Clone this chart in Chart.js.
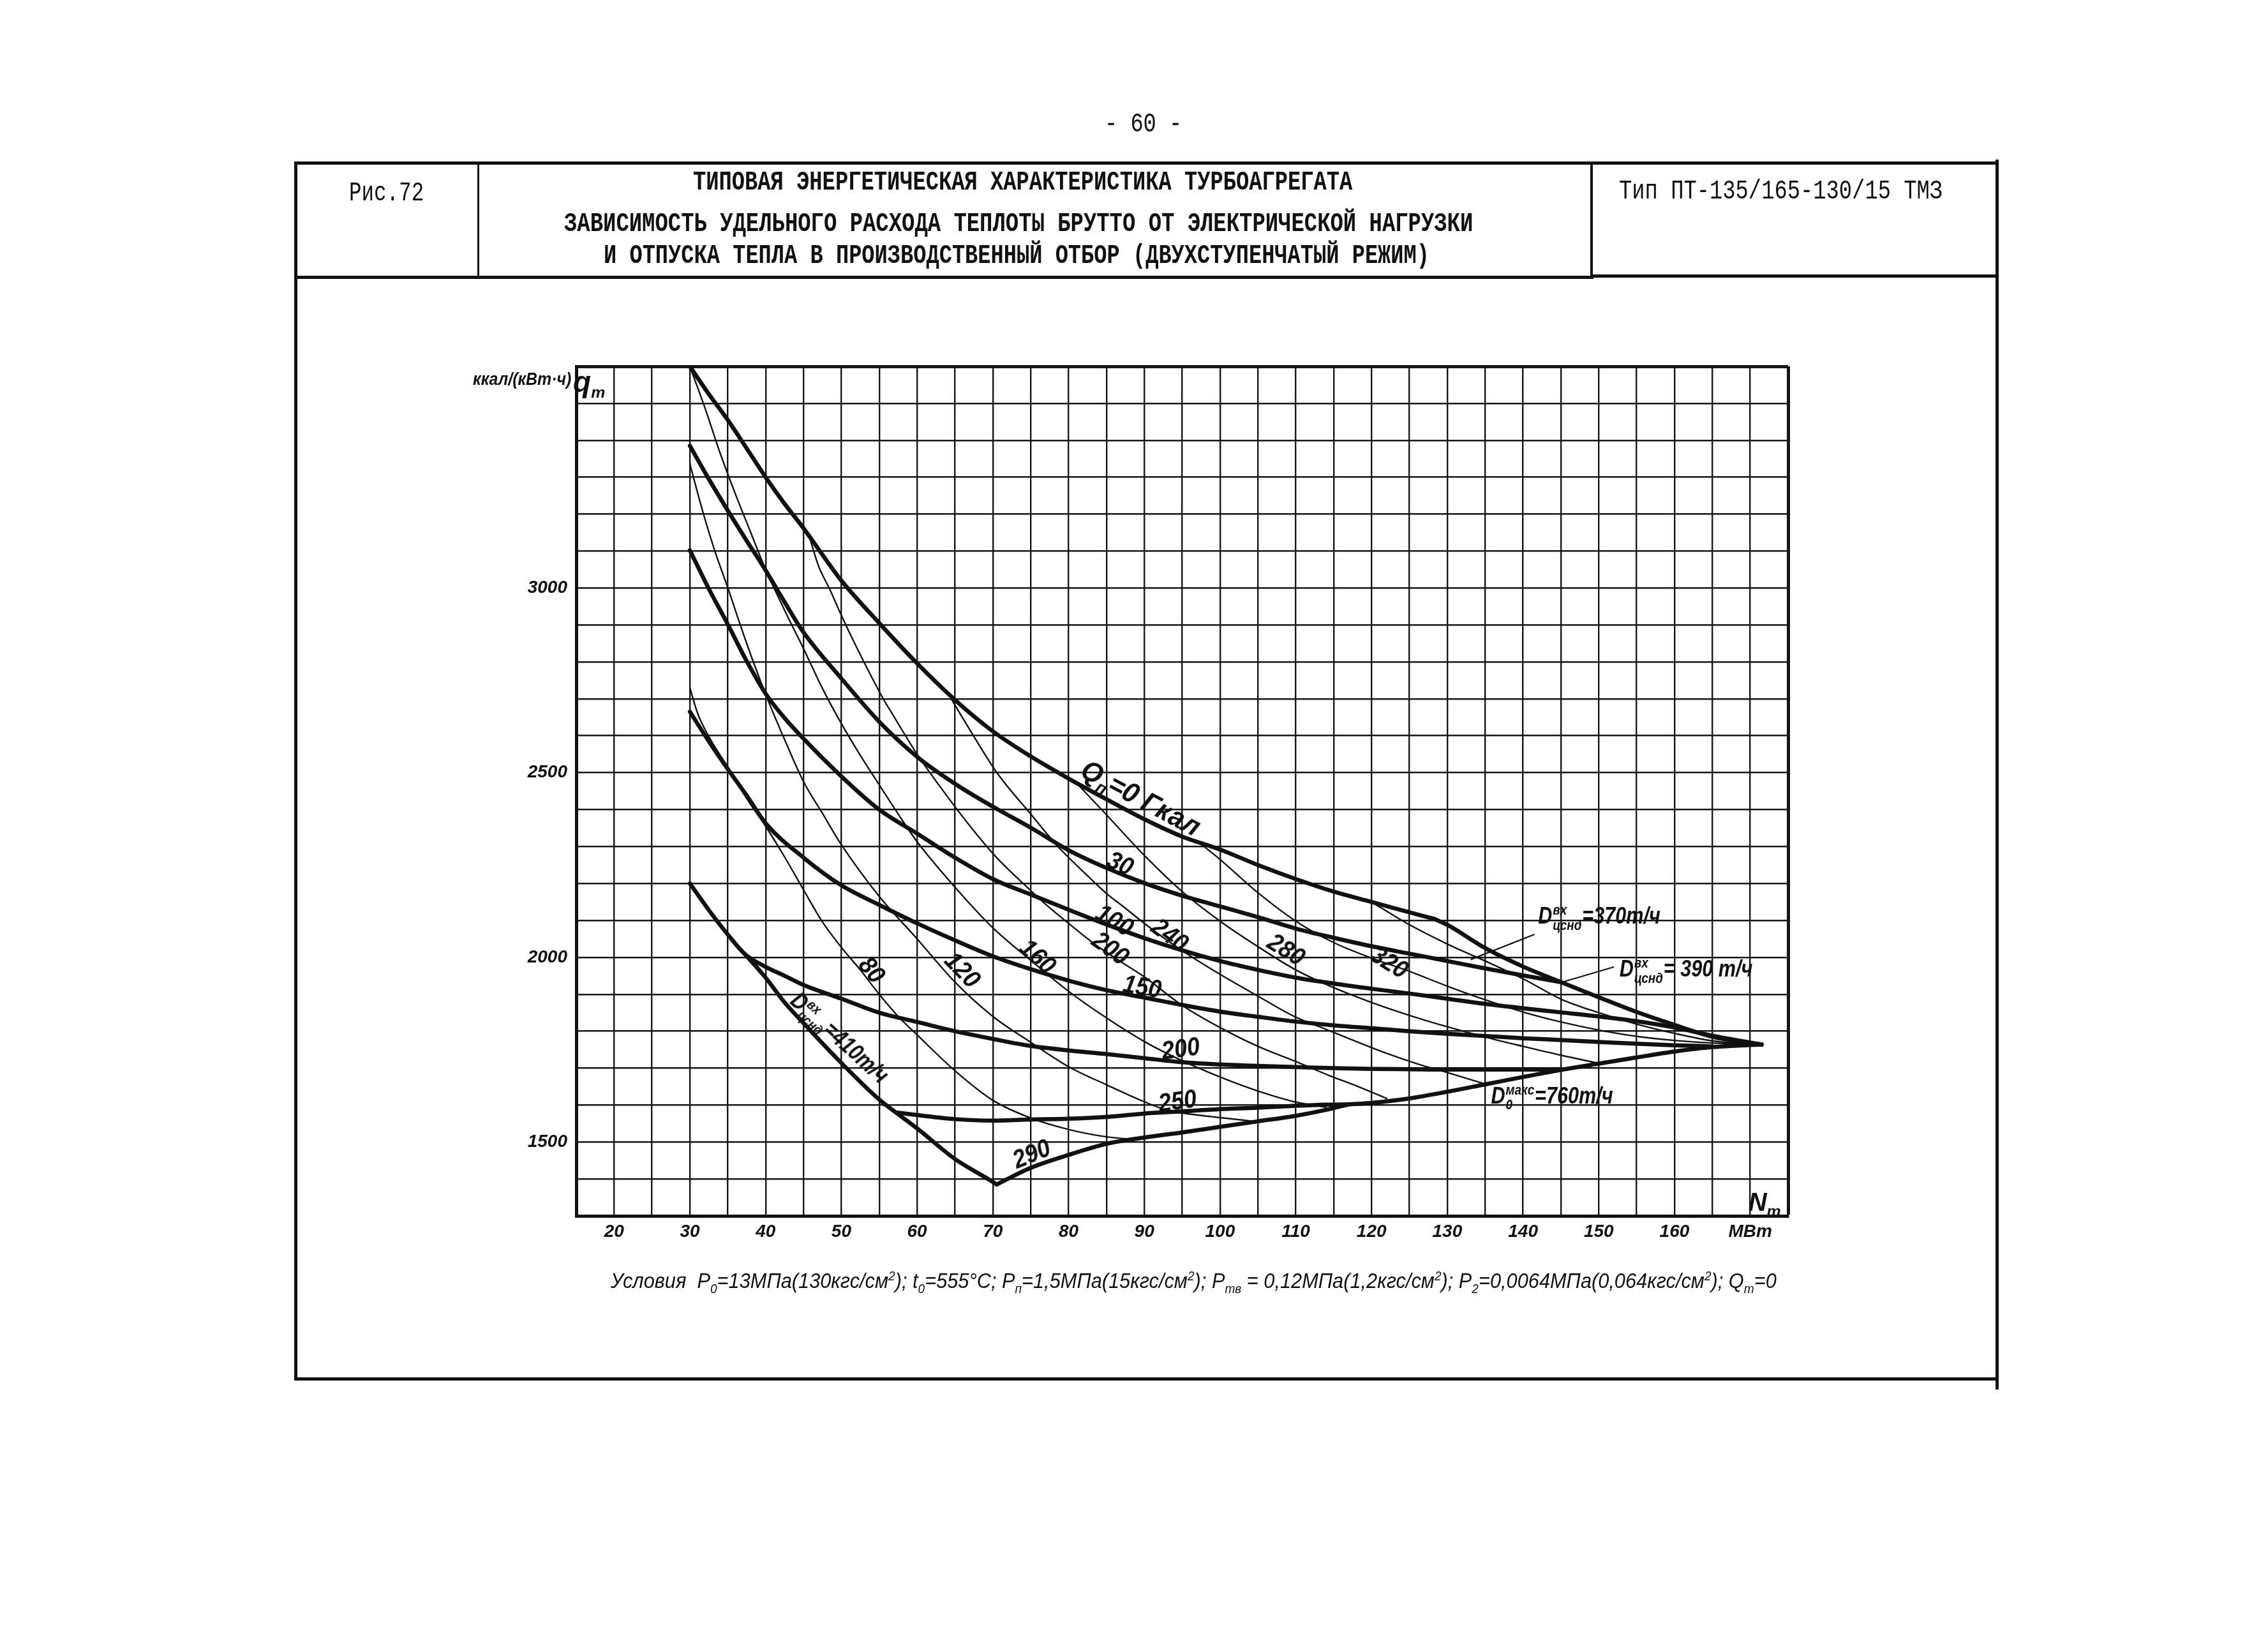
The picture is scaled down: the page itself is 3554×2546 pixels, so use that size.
<!DOCTYPE html>
<html lang="ru">
<head>
<meta charset="utf-8">
<title>Рис.72</title>
<script src="https://cdn.jsdelivr.net/npm/chart.js@4.4.1/dist/chart.umd.min.js"></script>
<style>
html,body{margin:0;padding:0;background:#fff;}
#page{position:relative;width:3554px;height:2546px;overflow:hidden;background:#fff;color:#111;}
#c{position:absolute;left:0;top:0;}
.ln{position:absolute;background:#111;}
.fit{position:absolute;white-space:nowrap;line-height:1;transform-origin:0 50%;color:#111;}
.hd{font-family:'Liberation Mono','DejaVu Sans Mono',monospace;font-weight:bold;font-size:42px;}
.hn{font-family:'Liberation Mono','DejaVu Sans Mono',monospace;font-weight:normal;font-size:42px;}
.ft{font-family:'Liberation Sans','DejaVu Sans',sans-serif;font-style:italic;font-size:34px;}
.ax{font-family:'Liberation Sans','DejaVu Sans',sans-serif;font-style:italic;font-weight:bold;font-size:28px;}
.lab{position:absolute;white-space:nowrap;line-height:1;font-family:'Liberation Sans','DejaVu Sans',sans-serif;font-style:italic;font-weight:bold;font-size:40px;color:#111;}
sub,sup{font-size:0.62em;line-height:0;}
.stk{display:inline-block;vertical-align:middle;font-size:0.62em;line-height:1.05;text-align:left;margin:0 1px;}
.stk span{display:block;}
</style>
</head>
<body>
<div id="page">
<canvas id="c" width="3554" height="2546"></canvas>

<div class="fit hn" data-l="1731" data-r="1852" data-cy="195">- 60 -</div>
<div class="fit hn" data-l="547" data-r="664" data-cy="303">Рис.72</div>
<div class="fit hd" data-l="1086" data-r="2119" data-cy="286">ТИПОВАЯ ЭНЕРГЕТИЧЕСКАЯ ХАРАКТЕРИСТИКА ТУРБОАГРЕГАТА</div>
<div class="fit hd" data-l="884" data-r="2308" data-cy="351">ЗАВИСИМОСТЬ УДЕЛЬНОГО РАСХОДА ТЕПЛОТЫ БРУТТО ОТ ЭЛЕКТРИЧЕСКОЙ НАГРУЗКИ</div>
<div class="fit hd" data-l="946" data-r="2240" data-cy="401">И ОТПУСКА ТЕПЛА В ПРОИЗВОДСТВЕННЫЙ ОТБОР (ДВУХСТУПЕНЧАТЫЙ РЕЖИМ)</div>
<div class="fit hn" data-l="2537" data-r="3044" data-cy="300">Тип ПТ-135/165-130/15 ТМЗ</div>
<div class="fit ft" data-l="957" data-r="2784" data-cy="2006">Условия&nbsp; P<sub>0</sub>=13МПа(130кгс/см<sup>2</sup>); t<sub>0</sub>=555°C; P<sub>п</sub>=1,5МПа(15кгс/см<sup>2</sup>); P<sub>тв</sub> = 0,12МПа(1,2кгс/см<sup>2</sup>); P<sub>2</sub>=0,0064МПа(0,064кгс/см<sup>2</sup>); Q<sub>т</sub>=0</div>
<div class="fit ax" data-l="741" data-r="895" data-cy="594">ккал/(кВт·ч)</div>
</div>

<script>
// ---------- axis ticks ----------
const X_MIN = 15, X_MAX = 175, X_STEP = 5;
const Y_MIN = 1300, Y_MAX = 3600, Y_STEP = 100;
const X_TICK_LABELS = [20,30,40,50,60,70,80,90,100,110,120,130,140,150,160];
const X_UNIT_AT = 170, X_UNIT = 'МВт';
const Y_TICK_LABELS = [1500,2000,2500,3000];

// ---------- thick curves: Qп = const, Гкал/ч  [N_т МВт, q_т ккал/(кВт·ч)] ----------
const Q0   = [[30,3600],[32.5,3525],[35,3455],[37.5,3378],[40,3300],[42.5,3228],[45,3162],[47.5,3090],[50,3020],[55,2905],[60,2796],[65,2697],[70,2612],[75,2544],[80,2484],[85,2428],[90,2374],[95,2327],[100,2292],[105,2250],[110,2212],[115,2178],[120,2150],[125,2122],[128.3,2104]];
const Q30  = [[30,3385],[32.5,3295],[35,3210],[37.5,3128],[40,3048],[42.5,2962],[45,2880],[50,2755],[55,2638],[60,2543],[65,2470],[70,2408],[75,2351],[80,2290],[85,2242],[90,2201],[95,2167],[100,2138],[105,2109],[110,2078],[115,2053],[120,2030],[125,2010],[130,1990],[135,1970],[140,1951],[145,1933]];
const Q100 = [[30,3102],[32.5,2998],[35,2902],[37.5,2802],[40,2714],[42.5,2648],[45,2592],[50,2490],[55,2400],[60,2335],[65,2270],[70,2212],[75,2170],[80,2129],[85,2089],[90,2052],[95,2019],[100,1990],[105,1966],[110,1945],[115,1929],[120,1915],[125,1902],[130,1888],[135,1874],[140,1862],[145,1851],[150,1840],[155,1827],[160,1810],[165,1788],[171.5,1764]];
const Q150 = [[30,2665],[32.5,2585],[35,2510],[37.5,2438],[40,2363],[45,2270],[50,2195],[55,2142],[60,2092],[65,2046],[70,2003],[75,1968],[80,1937],[85,1911],[90,1891],[95,1871],[100,1853],[105,1839],[110,1826],[115,1816],[120,1808],[125,1800],[130,1793],[135,1787],[140,1781],[145,1776],[150,1771],[155,1766],[160,1762],[165,1759]];
const Q200 = [[30,2200],[32.5,2128],[35,2062],[37.3,2008],[40,1974],[42.5,1950],[45,1925],[50,1888],[55,1850],[60,1825],[65,1800],[70,1779],[75,1760],[80,1748],[85,1738],[90,1727],[95,1716],[100,1710],[105,1706],[110,1703],[115,1700],[120,1698],[125,1697],[130,1696],[135,1696],[140,1696],[145,1697]];
const Q250 = [[57.2,1580],[60,1573],[65,1562],[70,1558],[75,1561],[80,1563],[85,1568],[90,1577],[95,1583],[100,1589],[105,1593],[110,1598],[114,1601],[117,1602]];
const Q290 = [[70.5,1385],[75,1430],[80,1465],[85,1495],[90,1512],[95,1526],[100,1541],[105,1556],[110,1571],[114,1587],[117,1602]];

// ---------- boundary curves ----------
const D_CSND_410 = [[37.3,2008],[40,1945],[42.5,1878],[45,1822],[50,1714],[55,1615],[57.2,1580],[60,1537],[65,1454],[70,1392],[70.5,1385]];
const D_CSND_390 = [[128.3,2104],[130,2088],[135,2025],[140,1975],[145,1933],[150,1892],[155,1852],[160,1817],[165,1785],[170,1768],[171.5,1764]];
const D_CSND_370 = [[120,2150],[124.5,2094],[130,2036],[135,1990],[140,1942],[145,1887],[150,1850],[155,1819],[160,1794],[165,1774],[171.5,1764]];
const D0_MAX_760 = [[117,1602],[120,1606],[125,1618],[130,1636],[135,1656],[140,1676],[145,1695],[150,1712],[155,1729],[160,1745],[165,1757],[171.5,1764]];

// ---------- thin curves (labelled 80 ... 320) ----------
const T80  = [[30,2730],[31,2662],[32.5,2598],[35,2515],[37.5,2430],[40,2355],[42.5,2272],[45,2183],[47.5,2096],[50,2027],[52.5,1966],[55,1900],[57.5,1840],[60,1790],[65,1693],[70,1613],[75,1565],[80,1534],[85,1514],[88,1508]];
const T120 = [[30,3336],[31.8,3200],[33.3,3100],[35,3001],[37.5,2850],[40,2712],[42.5,2590],[45,2476],[47.5,2390],[50,2305],[55,2165],[60,2050],[65,1933],[70,1840],[75,1770],[80,1704],[85,1655],[90,1609],[93,1586],[97,1573],[100,1566],[104,1557]];
const T160 = [[30,3600],[32,3487],[34,3365],[36,3255],[38,3152],[40,3050],[42.5,2940],[45,2836],[47.5,2728],[50,2633],[52.5,2547],[55,2467],[57.5,2388],[60,2313],[65,2190],[70,2080],[75,1992],[80,1908],[85,1836],[90,1772],[95,1720],[100,1676],[105,1638],[110,1608],[114,1594]];
const T200 = [[45.9,3130],[47,3059],[48.5,2995],[50,2926],[52,2840],[54,2759],[55.5,2701],[57,2650],[60,2550],[63.4,2452],[67,2355],[70.5,2270],[74,2200],[77,2143],[80,2092],[83.5,2035],[87,1987],[90,1947],[95,1870],[100,1810],[105,1759],[110,1718],[114.3,1681],[118,1652],[122,1618]];
const T240 = [[64.5,2700],[67,2615],[70.5,2501],[75,2388],[78.6,2300],[82.6,2219],[85,2173],[87.5,2133],[90,2092],[95,2018],[100,1954],[105,1895],[110,1838],[114,1805],[118,1772],[122,1740],[126,1712],[130,1688],[135,1657]];
const T280 = [[81,2473],[85,2386],[90,2276],[95,2178],[100,2098],[105,2029],[110,1966],[115,1918],[120,1878],[125,1843],[130,1812],[135,1784],[140,1759],[145,1735],[150,1713]];
const T320 = [[97.4,2308],[100,2265],[105,2175],[110,2098],[115,2040],[120,1998],[125,1962],[130,1922],[135,1885],[140,1852],[145,1825],[150,1803],[155,1786],[160,1775],[165,1768],[171.5,1764]];

const THICK = [Q0,Q30,Q100,Q150,Q200,Q250,Q290,D_CSND_410,D_CSND_390,D0_MAX_760];
const THIN  = [T80,T120,T160,T200,T240,T280,T320,D_CSND_370];

// ---------- annotation texts (placed at data coordinates) ----------
const STK = (a,b) => '<span class="stk"><span>'+a+'</span><span>'+b+'</span></span>';
const CURVE_LABELS = [
  {h:'Q<sub>п</sub>=0 Гкал', x:89.6, y:2432, r:28, sx:0.95, fs:44},
  {h:'30',  x:86.9, y:2256, r:24},
  {h:'100', x:86.1, y:2102, r:30},
  {h:'200', x:85.6, y:2026, r:36},
  {h:'240', x:93.4, y:2062, r:36},
  {h:'160', x:76.0, y:2004, r:42},
  {h:'280', x:108.8,y:2022, r:32},
  {h:'120', x:66.1, y:1967, r:46},
  {h:'80',  x:54.1, y:1967, r:50},
  {h:'150', x:89.7, y:1922, r:10},
  {h:'200', x:94.8, y:1754, r:-8},
  {h:'250', x:94.4, y:1612, r:-8},
  {h:'290', x:75.1, y:1470, r:-22},
  {h:'320', x:122.4,y:1987, r:32},
  {h:'D'+STK('вх','цснд')+'=370т/ч', x:150.1, y:2108, r:0, sx:0.85, fs:36},
  {h:'D'+STK('вх','цснд')+'= 390 т/ч', x:161.5, y:1965, r:0, sx:0.85, fs:36},
  {h:'D'+STK('макс','0')+'=760т/ч', x:143.8, y:1622, r:0, sx:0.85, fs:36},
  {h:'D'+STK('вх','цснд')+'=410т/ч', x:49.6, y:1778, r:42, sx:0.85, fs:36},
  {h:'<span style="font-size:46px">q</span><sub>т</sub>', x:16.7, y:3558, r:0, sx:1},
  {h:'N<sub>т</sub>', x:171.9, y:1338, r:0, sx:1}
];
const LEADERS = [
  [[141.5,2062],[133.1,1994]],
  [[152.0,1974],[145.2,1933]]
];

function ds(pts, w){
  return {data: pts.map(p => ({x:p[0], y:p[1]})), showLine:true, borderColor:'#111', backgroundColor:'#111',
    borderWidth:w, pointRadius:0, pointHoverRadius:0, fill:false, cubicInterpolationMode:'monotone',
    borderCapStyle:'round', borderJoinStyle:'round'};
}

const leaderPlugin = {
  id:'leaders',
  afterDatasetsDraw(chart){
    const {ctx, scales:{x, y}} = chart;
    ctx.save(); ctx.strokeStyle='#111'; ctx.lineWidth=2.2;
    LEADERS.forEach(([a,b]) => {
      ctx.beginPath();
      ctx.moveTo(x.getPixelForValue(a[0]), y.getPixelForValue(a[1]));
      ctx.lineTo(x.getPixelForValue(b[0]), y.getPixelForValue(b[1]));
      ctx.stroke();
    });
    ctx.restore();
  }
};

const tickFont = {family:"'Liberation Sans','DejaVu Sans',sans-serif", size:28, style:'italic', weight:'bold'};
const gridW = (ctx, edge) => (ctx.tick && ctx.tick.value === edge) ? 5 : 2.4;

const chart = new Chart(document.getElementById('c'), {
  type:'scatter',
  data:{datasets:[...THICK.map(p => ds(p, 6.5)), ...THIN.map(p => ds(p, 2.4))]},
  options:{
    responsive:false, animation:false, devicePixelRatio:1,
    layout:{padding:{left:743, top:574, right:752, bottom:581}},
    plugins:{legend:{display:false}, tooltip:{enabled:false}},
    scales:{
      x:{type:'linear', min:X_MIN, max:X_MAX,
        ticks:{stepSize:X_STEP, autoSkip:false, maxRotation:0, padding:8, color:'#111', font:tickFont,
          callback:v => v === X_UNIT_AT ? X_UNIT : (X_TICK_LABELS.includes(v) ? String(v) : '')},
        grid:{color:'#161616', lineWidth:c => gridW(c, X_MAX), drawTicks:false},
        border:{display:true, width:5, color:'#111'},
        afterFit:s => { s.height = 60; }
      },
      y:{type:'linear', min:Y_MIN, max:Y_MAX,
        ticks:{stepSize:Y_STEP, autoSkip:false, padding:14, color:'#111', font:tickFont,
          callback:v => Y_TICK_LABELS.includes(v) ? String(v) : ''},
        grid:{color:'#161616', lineWidth:c => gridW(c, Y_MAX), drawTicks:false},
        border:{display:true, width:5, color:'#111'},
        afterFit:s => { s.width = 160; }
      }
    }
  },
  plugins:[leaderPlugin]
});

const page = document.getElementById('page');

// frame lines of the sheet
[[461,253,2671,5],[461,432,2036,5],[2495,430,637,5],[461,253,5,1910],[3127,250,5,1927],[461,2158,2671,5],[748,253,3,182],[2492,253,4,184]]
 .forEach(([l,t,w,h]) => { const d=document.createElement('div'); d.className='ln';
   d.style.left=l+'px'; d.style.top=t+'px'; d.style.width=w+'px'; d.style.height=h+'px'; page.appendChild(d); });

// fitted text blocks
document.querySelectorAll('.fit').forEach(el => {
  const l=+el.dataset.l, r=+el.dataset.r, cy=+el.dataset.cy;
  const w=el.offsetWidth, h=el.offsetHeight;
  el.style.left=l+'px'; el.style.top=(cy-h/2)+'px';
  el.style.transform='scaleX('+((r-l)/w).toFixed(4)+')';
});

// curve labels
const xs = chart.scales.x, ys = chart.scales.y;
CURVE_LABELS.forEach(o => {
  const d=document.createElement('div'); d.className='lab'; d.innerHTML=o.h;
  if (o.fs) d.style.fontSize=o.fs+'px';
  page.appendChild(d);
  d.style.left=xs.getPixelForValue(o.x)+'px'; d.style.top=ys.getPixelForValue(o.y)+'px';
  d.style.transform='translate(-50%,-50%) rotate('+o.r+'deg) scaleX('+(o.sx||0.9)+')';
});
</script>
</body>
</html>
